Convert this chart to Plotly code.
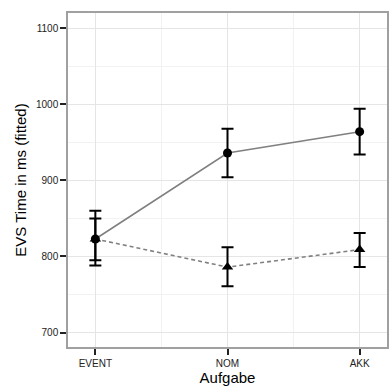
import plotly.graph_objects as go

categories = ["EVENT", "NOM", "AKK"]
solid_vals = [823, 936, 964]
solid_lo = [795, 904, 934]
solid_hi = [850, 968, 994]
dashed_vals = [823, 786, 809]
dashed_lo = [788, 761, 786]
dashed_hi = [860, 812, 831]
y_ticks = [700, 800, 900, 1000, 1100]

xs = list(range(len(categories)))

fig = go.Figure()

def add_series(vals, lo, hi, dash, symbol, msize):
    fig.add_trace(go.Scatter(
        x=xs, y=vals, mode="lines",
        line=dict(color="#808080", width=1.6, dash=dash),
        showlegend=False, hoverinfo="skip"))
    fig.add_trace(go.Scatter(
        x=xs, y=vals, mode="markers",
        marker=dict(color="black", size=msize, symbol=symbol),
        error_y=dict(type="data", symmetric=False,
                     array=[h - v for h, v in zip(hi, vals)],
                     arrayminus=[v - l for l, v in zip(lo, vals)],
                     color="black", thickness=2, width=6),
        showlegend=False))

add_series(solid_vals, solid_lo, solid_hi, "solid", "circle", 9)
add_series(dashed_vals, dashed_lo, dashed_hi, "4px,3px", "triangle-up", 10)

font = "Liberation Sans, Arial, Helvetica, sans-serif"
fig.update_layout(
    width=390, height=387,
    margin=dict(l=68, r=1, t=13, b=40),
    paper_bgcolor="white", plot_bgcolor="white",
    font=dict(family=font, color="#222222"),
    xaxis=dict(
        range=[-0.207, 2.207], tickvals=xs, ticktext=categories,
        showgrid=True, gridcolor="#e5e5e5", gridwidth=1,
        minor=dict(tickvals=[0.5, 1.5], showgrid=True, gridcolor="#f2f2f2", ticks=""),
        ticks="outside", ticklen=6, tickwidth=1.5, tickcolor="#222222",
        tickfont=dict(size=10, color="#222222"),
        showline=True, mirror=True, linecolor="#a0a0a0", linewidth=1.5,
        zeroline=False,
        title=dict(text="Aufgabe", font=dict(size=15, color="black"), standoff=5),
    ),
    yaxis=dict(
        range=[681, 1120], tickvals=y_ticks,
        showgrid=True, gridcolor="#e5e5e5", gridwidth=1,
        minor=dict(tickvals=[750, 850, 950, 1050], showgrid=True, gridcolor="#f2f2f2", ticks=""),
        ticks="outside", ticklen=6, tickwidth=1.5, tickcolor="#222222",
        tickfont=dict(size=10, color="#222222"),
        showline=True, mirror=True, linecolor="#a0a0a0", linewidth=1.5,
        zeroline=False,
        title=dict(text="EVS Time in ms (fitted)", font=dict(size=15, color="black"), standoff=6),
    ),
)

fig.write_html("out.html")
